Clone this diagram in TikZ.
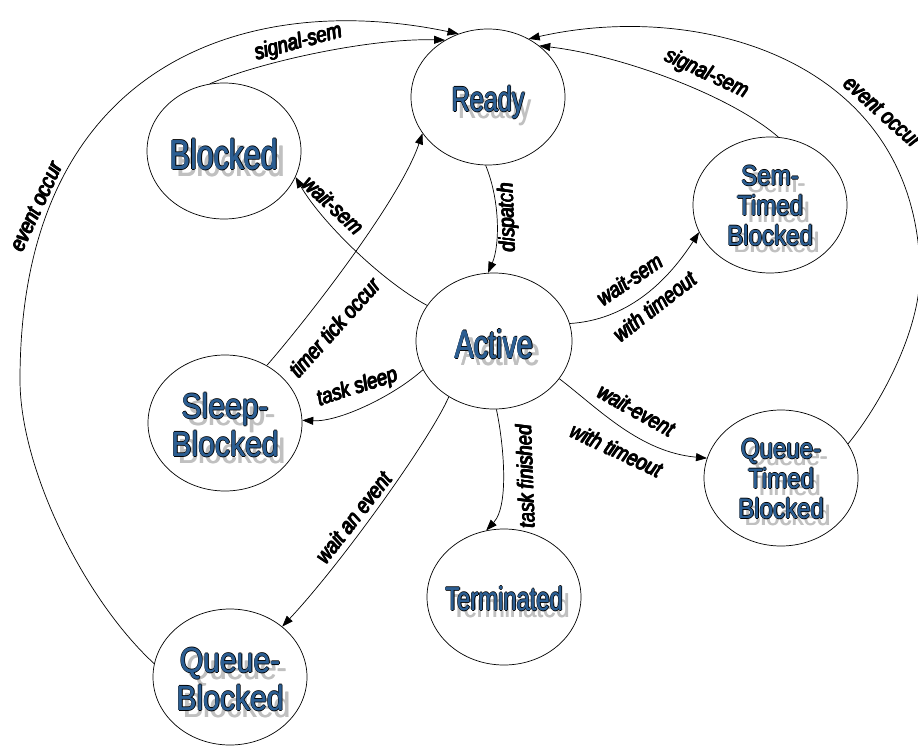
\documentclass[tikz,border=0pt]{standalone}
\usepackage{fontspec}
\usetikzlibrary{arrows.meta,shapes.geometric}

\newfontfamily\stfont[FakeStretch=0.72]{Liberation Sans}
\newfontfamily\stwide[FakeStretch=0.86]{Liberation Sans}
\newfontfamily\lbfont[FakeStretch=0.84]{Liberation Sans}
\definecolor{stateblue}{RGB}{44,94,146}
\definecolor{shade}{RGB}{192,192,192}

% state caption: grey shadow, black rim, blue face
\newcommand\rows[1]{\begin{tabular}{@{}c@{}}#1\end{tabular}}
\newcommand\cpy[3]{\rlap{\kern#1\smash{\raisebox{#2}{#3}}}}
\newcommand\stcap[1]{\raisebox{-.38em}[0pt][0pt]{\makebox[0pt]{%
  \cpy{6pt}{-7pt}{\color{shade}\rows{#1}}%
  \cpy{6.8pt}{-7pt}{\color{shade}\rows{#1}}%
  \cpy{-.9pt}{0pt}{\rows{#1}}\cpy{.9pt}{0pt}{\rows{#1}}%
  \cpy{0pt}{-.9pt}{\rows{#1}}\cpy{0pt}{.9pt}{\rows{#1}}%
  \color{stateblue}\rows{#1}\hspace*{-.5pt}\llap{\rows{#1}}}}}
% heavy label text
\newcommand\heavy[1]{\rlap{\kern.9pt#1}\rlap{\raisebox{.6pt}{#1}}%
  \rlap{\kern.9pt\raisebox{.6pt}{#1}}\rlap{\kern.45pt#1}#1}

\begin{document}
\begin{tikzpicture}[
          x=1pt, y=-1pt, line width=.7pt,
          >={Triangle[length=11pt,width=8pt]},
          state/.style={draw, ellipse, inner sep=0pt,
                        minimum width=154pt, minimum height=136pt},
          single/.style={font=\stfont\fontsize{#1}{#1}\selectfont},
          twoline/.style={font=\stwide\fontsize{35}{38}\selectfont},
          threeline/.style={font=\stwide\fontsize{28}{30}\selectfont},
          lbl/.style={font=\lbfont\itshape\fontsize{22}{24}\selectfont,
                      inner sep=1pt}
        ]
        \useasboundingbox (0,0) rectangle (918,747);

        \node[state, single=35] (ready) at (488,97) {\stcap{Ready}};
        \node[state, single=42] (blocked) at (224,151) {\stcap{Blocked}};
        \node[state, threeline] (semtimed) at (770,205) {\stcap{Sem-\\Timed\\Blocked}};
        \node[state, single=40, minimum width=156pt] (active) at (494,341) {\stcap{Active}};
        \node[state, twoline] (sleep) at (225,423) {\stcap{Sleep-\\Blocked}};
        \node[state, threeline] (queuetimed) at (781,478) {\stcap{Queue-\\Timed\\Blocked}};
        \node[state, single=33] (terminated) at (504,597) {\stcap{Terminated}};
        \node[state, twoline] (queue) at (230,677) {\stcap{Queue-\\Blocked}};

        % back to ready
        \draw[->] (blocked.102) .. controls (260,62) and (370,38) .. (ready.127)
          node[lbl, rotate=15] (sigb) at (298,43) {\heavy{signal-sem}};
        \draw[->] (queue.170) .. controls (85,600) and (20,470) .. (20,380)
          .. controls (20,60) and (250,-10) .. (ready.115)
          node[lbl, rotate=65] (evq) at (36,207) {\heavy{event occur}};
        \draw[->] (semtimed.83) .. controls (730,95) and (620,55) .. (ready.45)
          node[lbl, rotate=-25] (sigt) at (706,74) {\heavy{signal-sem}};
        \draw[->] (queuetimed.27) .. controls (880,405) and (921,330) .. (920,270)
          .. controls (915,60) and (700,0) .. (ready.55)
          node[lbl, rotate=-42] (evt) at (882,112) {\heavy{event occur}};
        \draw[->] (sleep.54) .. controls (308,318) and (400,200) .. (ready.209)
          node[lbl, rotate=48] (tick) at (334,328) {\heavy{timer tick occur}};

        % ready to active
        \draw[->] (ready.268) .. controls (500,200) and (500,245) .. (active.95)
          node[lbl, rotate=92] (disp) at (508,218) {\heavy{dispatch}};

        % out of active
        \draw[->] (active.152) .. controls (380,280) and (320,220) .. (blocked.-20)
          node[lbl, rotate=-43] (wsem) at (333,205) {\heavy{wait-sem}};
        \draw[->] (active.202) .. controls (395,395) and (340,422) .. (sleep.2)
          node[lbl, rotate=18] (tsl) at (357,388) {\heavy{task sleep}};
        \draw[->] (active.231) .. controls (430,440) and (340,565) .. (queue.44)
          node[lbl, rotate=52] (wev) at (353,518) {\heavy{wait an event}};
        \draw[->] (active.272) .. controls (503,440) and (510,505) .. (terminated.105)
          node[lbl, rotate=92] (tfin) at (525,477) {\heavy{task finished}};
        \draw[->] (active.13) .. controls (625,320) and (665,285) .. (semtimed.201)
          node[lbl, rotate=34] (wst1) at (629,280) {\heavy{wait-sem}}
          node[lbl, rotate=38] (wst2) at (654,307) {\heavy{with timeout}};
        \draw[->] (active.-30) .. controls (600,410) and (640,452) .. (queuetimed.165)
          node[lbl, rotate=-29] (wet1) at (636,410) {\heavy{wait-event}}
          node[lbl, rotate=-25] (wet2) at (616,450) {\heavy{with timeout}};
      \end{tikzpicture}
\end{document}
